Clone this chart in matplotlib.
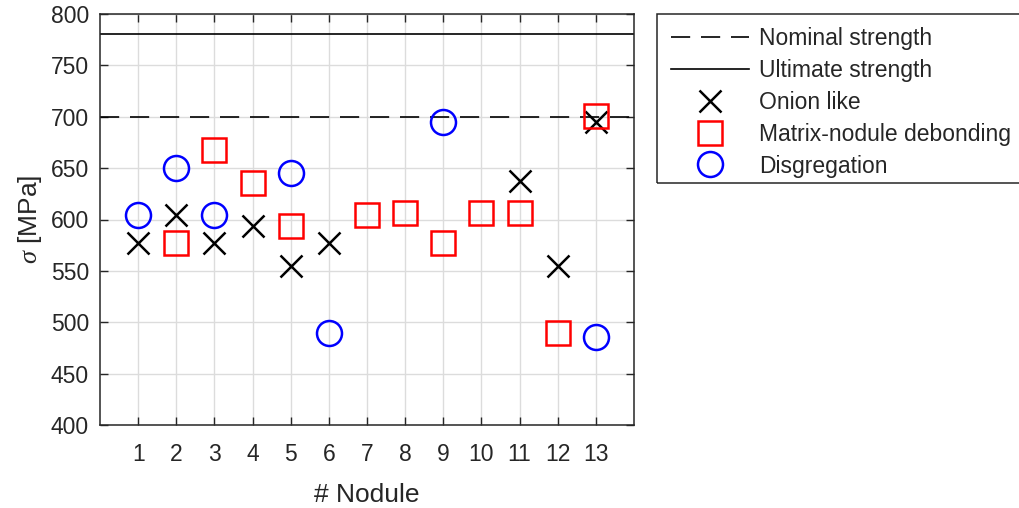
import matplotlib
matplotlib.use("Agg")
import matplotlib.pyplot as plt
from matplotlib.patches import Rectangle

plt.rcParams['font.family'] = ['Liberation Sans', 'DejaVu Sans']
plt.rcParams['mathtext.fontset'] = 'custom'
plt.rcParams['mathtext.it'] = 'Liberation Serif:italic'

nominal_strength = 700
ultimate_strength = 781

onion_x = [1, 2, 3, 4, 5, 6, 11, 12, 13]
onion_y = [577, 604, 577, 594, 555, 577, 637, 555, 695]

matrix_x = [2, 3, 4, 5, 7, 8, 9, 10, 11, 12, 13]
matrix_y = [577, 668, 636, 594, 604, 606, 577, 606, 606, 490, 701]

disg_x = [1, 2, 3, 5, 6, 9, 13]
disg_y = [604, 650, 604, 645, 490, 695, 486]

xticks = list(range(1, 14))
yticks = list(range(400, 801, 50))

fig = plt.figure(figsize=(10.19, 5.08), dpi=100)
ax = fig.add_axes([100/1019, 1 - 425/508, (634-100)/1019, (425-14)/508])

fs = 16.5
ax.axhline(nominal_strength, color='black', lw=1.2, dashes=(11.5, 6.5), label='Nominal strength')
ax.axhline(ultimate_strength, color='black', lw=1.2, label='Ultimate strength')
ax.plot(onion_x, onion_y, ls='none', marker='x', ms=16, mew=1.8, color='black', label='Onion like')
ax.plot(matrix_x, matrix_y, ls='none', marker='s', ms=17, mew=1.8, mec='#ff0000', mfc='none', label='Matrix-nodule debonding')
ax.plot(disg_x, disg_y, ls='none', marker='o', ms=18, mew=1.8, mec='#0000ff', mfc='none', label='Disgregation')

ax.set_xlim(0, 14)
ax.set_ylim(400, 800)
ax.set_xticks(xticks)
ax.set_yticks(yticks)
ax.tick_params(direction='in', length=6, width=1, top=True, right=True,
               labelsize=fs, colors='#262626', pad=8)
ax.tick_params(axis='x', pad=13)
ax.grid(True, color='#dcdcdc', lw=1)
ax.set_axisbelow(True)
for s in ax.spines.values():
    s.set_color('#262626')
    s.set_linewidth(1.1)

ax.set_xlabel('# Nodule', fontsize=19, color='#262626', labelpad=12)
ax.set_ylabel(r'$\sigma$ [MPa]', fontsize=19, color='#262626', labelpad=5)

leg = fig.legend(loc='upper left', bbox_to_anchor=(657/1019, 1 - 13/508),
                 fontsize=fs, frameon=False, handlelength=3.4,
                 labelspacing=0.39, borderpad=0.6, handletextpad=0.45,
                 borderaxespad=0)
for t in leg.get_texts():
    t.set_color('#262626')

fig.patches.append(Rectangle((657/1019, 1 - 183/508), (1030-657)/1019, (183-14)/508,
                             transform=fig.transFigure, fill=False,
                             edgecolor='#262626', lw=1.1, figure=fig))

fig.savefig('out.png', dpi=100)
